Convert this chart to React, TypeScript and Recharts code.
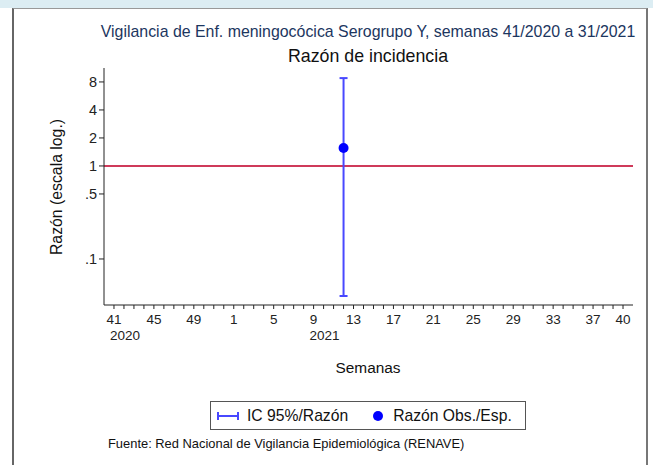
import {
  ComposedChart,
  Scatter,
  ErrorBar,
  XAxis,
  YAxis,
  ReferenceLine,
} from "recharts";

// weeks on the axis: 41/2020 .. 40/2021
const weeks2020 = [41, 42, 43, 44, 45, 46, 47, 48, 49, 50, 51, 52];
const weeks2021 = [
  1, 2, 3, 4, 5, 6, 7, 8, 9, 10, 11, 12, 13, 14, 15, 16, 17, 18, 19, 20,
  21, 22, 23, 24, 25, 26, 27, 28, 29, 30, 31, 32, 33, 34, 35, 36, 37, 38, 39, 40,
];
const labeledWeeks = [41, 45, 49, 1, 5, 9, 13, 17, 21, 25, 29, 33, 37, 40];
const yearMarks = ["41/2020", "9/2021"];

// observed / expected ratio with 95% CI
const obsPeriods = ["12/2021"];
const ratios = [1.56];
const ciLow = [0.04];
const ciHigh = [8.8];

const yTicks = [0.1, 0.5, 1, 2, 4, 8];

const periods = [
  ...weeks2020.map((w) => `${w}/2020`),
  ...weeks2021.map((w) => `${w}/2021`),
];

const points = obsPeriods.map((p, i) => ({
  idx: periods.indexOf(p),
  ratio: ratios[i],
  ci: [ratios[i] - ciLow[i], ciHigh[i] - ratios[i]],
}));

const FONT = "'Liberation Sans', Arial, sans-serif";
const BLUE_BAR = "#4848ff";
const BLUE_DOT = "#0000ff";
const RED = "#cf3a5a";

function WeekTick(props: any) {
  const { x, y, payload } = props;
  const period = periods[payload.value];
  if (!period) return null;
  const [week, year] = period.split("/");
  const show = labeledWeeks.includes(Number(week));
  return (
    <g>
      {show && (
        <text x={x} y={y} dy="0.71em" textAnchor="middle" fontSize={13.5} fill="#222" fontFamily={FONT}>
          {week}
        </text>
      )}
      {yearMarks.includes(period) && (
        <text x={x - 4} y={y + 16} dy="0.71em" textAnchor="start" fontSize={13.5} fill="#222" fontFamily={FONT}>
          {year}
        </text>
      )}
    </g>
  );
}

function LegendBox() {
  return (
    <div
      style={{
        position: "absolute",
        left: 210,
        top: 401,
        width: 316,
        height: 29,
        border: "1px solid #555",
        display: "flex",
        alignItems: "center",
        fontFamily: FONT,
        fontSize: 15.7,
        color: "#111",
        boxSizing: "border-box",
      }}
    >
      <svg width={24} height={12} style={{ marginLeft: 5 }}>
        <line x1={2} y1={6} x2={22} y2={6} stroke={BLUE_BAR} strokeWidth={2} />
        <line x1={2} y1={2} x2={2} y2={10} stroke={BLUE_BAR} strokeWidth={2} />
        <line x1={22} y1={2} x2={22} y2={10} stroke={BLUE_BAR} strokeWidth={2} />
      </svg>
      <span style={{ marginLeft: 7 }}>IC 95%/Razón</span>
      <svg width={12} height={12} style={{ marginLeft: 24 }}>
        <circle cx={6} cy={6} r={5} fill={BLUE_DOT} />
      </svg>
      <span style={{ marginLeft: 9 }}>Razón Obs./Esp.</span>
    </div>
  );
}

export default function App() {
  return (
    <div style={{ position: "absolute", left: 0, top: 0, width: 653, height: 465, background: "#fff", overflow: "hidden" }}>
      <div style={{ position: "absolute", left: 0, top: 0, width: 653, height: 8, background: "#dcedf3" }} />
      <div
        style={{
          position: "absolute",
          left: 12,
          top: 8,
          width: 632,
          height: 470,
          borderLeft: "2px solid #666",
          borderTop: "1px solid #999",
          borderRight: "2px solid #777",
        }}
      />
      <div style={{ position: "absolute", left: 0, width: 736, top: 23, textAlign: "center", fontFamily: FONT, fontSize: 15.9, color: "#1c3660" }}>
        Vigilancia de Enf. meningocócica Serogrupo Y, semanas 41/2020 a 31/2021
      </div>
      <div style={{ position: "absolute", left: 0, width: 736, top: 46, textAlign: "center", fontFamily: FONT, fontSize: 17.8, color: "#111" }}>
        Razón de incidencia
      </div>
      <div
        style={{
          position: "absolute",
          left: 57,
          top: 186.5,
          transform: "translate(-50%, -50%) rotate(-90deg)",
          whiteSpace: "nowrap",
          fontFamily: FONT,
          fontSize: 15.8,
          color: "#111",
        }}
      >
        Razón (escala log.)
      </div>
      <div style={{ position: "absolute", left: 0, width: 736, top: 359, textAlign: "center", fontFamily: FONT, fontSize: 15.4, color: "#111" }}>
        Semanas
      </div>
      <div style={{ position: "absolute", left: 108, top: 436, fontFamily: FONT, fontSize: 12.9, color: "#111" }}>
        Fuente: Red Nacional de Vigilancia Epidemiológica (RENAVE)
      </div>

      <div style={{ position: "absolute", left: 0, top: 0 }}>
        <ComposedChart width={653} height={465} margin={{ top: 68, right: 20, bottom: 120, left: 0 }}>
          <XAxis
            type="number"
            dataKey="idx"
            domain={[-1, periods.length]}
            ticks={periods.map((_, i) => i)}
            interval={0}
            tick={<WeekTick />}
            tickSize={4}
            tickMargin={5}
            height={40}
            stroke="#222"
            allowDataOverflow
          />
          <YAxis
            type="number"
            dataKey="ratio"
            scale="log"
            domain={[0.032, 11.3]}
            ticks={yTicks}
            allowDataOverflow
            width={104}
            tickSize={5}
            stroke="#222"
            tick={{ fill: "#222", fontSize: 14.5, fontFamily: FONT }}
            tickFormatter={(v: number) => (v < 1 ? String(v).replace("0.", ".") : String(v))}
          />
          <ReferenceLine y={1} stroke={RED} strokeWidth={2} />
          <Scatter
            data={points}
            dataKey="ratio"
            isAnimationActive={false}
            fill={BLUE_DOT}
            shape={(p: any) => <circle cx={p.cx} cy={p.cy} r={5} fill={BLUE_DOT} />}
          >
            <ErrorBar dataKey="ci" direction="y" width={4} stroke={BLUE_BAR} strokeWidth={2} />
          </Scatter>
        </ComposedChart>
      </div>
      <LegendBox />
    </div>
  );
}
